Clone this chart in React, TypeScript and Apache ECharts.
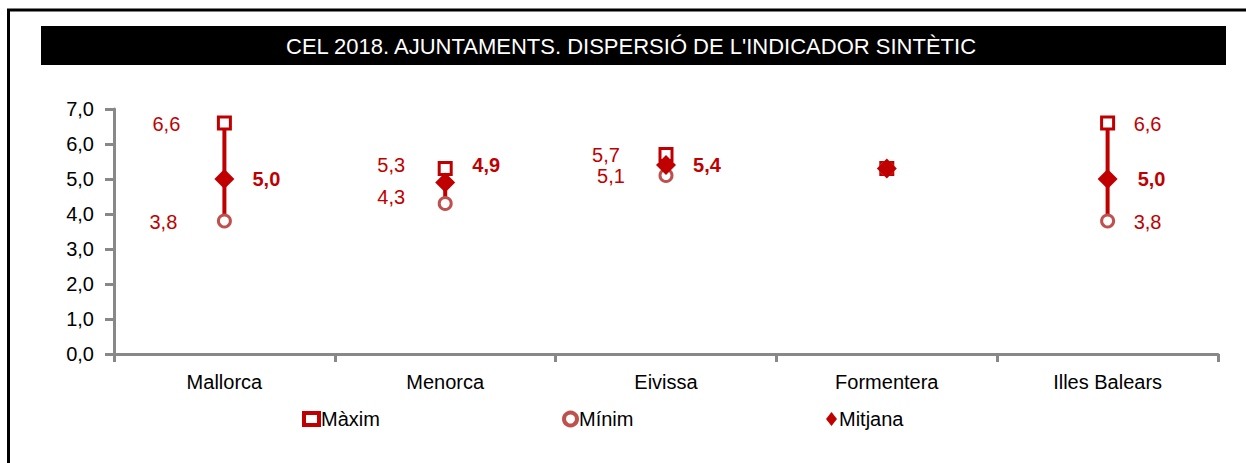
import React, { useEffect, useRef } from "react";
import * as echarts from "echarts";

const categories = ["Mallorca", "Menorca", "Eivissa", "Formentera", "Illes Balears"];
const maxVals = [6.6, 5.3, 5.7, 5.3, 6.6];
const minVals = [3.8, 4.3, 5.1, 5.3, 3.8];
const meanVals = [5.0, 4.9, 5.4, 5.3, 5.0];
const yTicks = [0, 1, 2, 3, 4, 5, 6, 7];

// label placement (offset from marker centre), null = hidden
const maxLabelOffset: (number[] | null)[] = [[-58, 1], [-54, -4], [-60, 0], null, [40, 1]];
const minLabelOffset: (number[] | null)[] = [[-61, 1], [-54, -7], [-55, 0], null, [40, 1]];
const meanLabelOffset: (number[] | null)[] = [[42, 0], [41, -18], [41, 0], null, [44, 0]];

const RED = "#C00000";
const MINC = "#C0504D";
const FONT = "'Liberation Sans', Arial, sans-serif";
const fmt = (v: number) => v.toFixed(1).replace(".", ",");

function mkData(vals: number[], offs: (number[] | null)[], bold: boolean) {
  return vals.map((v, i) => ({
    value: v,
    label: {
      show: offs[i] !== null,
      position: "inside",
      offset: offs[i] || [0, 0],
      formatter: () => fmt(v),
      color: RED,
      fontSize: 20,
      fontFamily: FONT,
      fontWeight: bold ? "bold" : "normal",
    },
  }));
}

export default function App() {
  const ref = useRef<HTMLDivElement>(null);
  useEffect(() => {
    const chart = echarts.init(ref.current!, null, { renderer: "svg" });
    const legendCommon = {
      top: 404,
      itemWidth: 15,
      itemHeight: 12,
      itemGap: 4,
      textStyle: { fontSize: 20, fontFamily: FONT, color: "#000", padding: [0, 0, 0, -3] },
    };
    chart.setOption({
      animation: false,
      backgroundColor: "#fff",
      graphic: [
        { type: "line", shape: { x1: 7, y1: 10, x2: 1246, y2: 10 }, style: { stroke: "#000", lineWidth: 3 } },
        { type: "line", shape: { x1: 8.5, y1: 9, x2: 8.5, y2: 463 }, style: { stroke: "#000", lineWidth: 3 } },
        { type: "rect", shape: { x: 41, y: 26, width: 1185, height: 39 }, style: { fill: "#000" } },
        {
          type: "text",
          x: 631,
          y: 46,
          style: {
            text: "CEL 2018. AJUNTAMENTS. DISPERSIÓ DE L'INDICADOR SINTÈTIC",
            fill: "#fff",
            fontSize: 22,
            fontFamily: FONT,
            align: "center",
            verticalAlign: "middle",
          },
        },
      ],
      legend: [
        {
          ...legendCommon,
          left: 297,
          data: [{ name: "Màxim", itemStyle: { color: "#fff", borderColor: RED, borderWidth: 4 } }],
        },
        {
          ...legendCommon,
          left: 557,
          itemWidth: 13,
          itemHeight: 13,
          data: [{ name: "Mínim", itemStyle: { color: "#fff", borderColor: MINC, borderWidth: 4 } }],
        },
        { ...legendCommon, left: 821, itemWidth: 11, itemHeight: 14, data: ["Mitjana"] },
      ],
      grid: { left: 114, right: 28, top: 109, bottom: 109 },
      xAxis: {
        type: "category",
        data: categories,
        boundaryGap: true,
        axisLine: { lineStyle: { color: "#888", width: 3 } },
        axisTick: { show: true, length: 8, lineStyle: { color: "#888", width: 3 } },
        axisLabel: { color: "#000", fontSize: 20, fontFamily: FONT, margin: 18 },
        splitLine: { show: false },
      },
      yAxis: {
        type: "value",
        min: yTicks[0],
        max: yTicks[yTicks.length - 1],
        interval: 1,
        axisLine: { show: true, lineStyle: { color: "#888", width: 3 } },
        axisTick: { show: true, length: 9, lineStyle: { color: "#888", width: 3 } },
        axisLabel: { color: "#000", fontSize: 20, fontFamily: FONT, margin: 20, formatter: (v: number) => fmt(v) },
        splitLine: { show: false },
      },
      series: [
        {
          type: "custom",
          name: "range",
          z: 1,
          data: categories.map((c, i) => [i, minVals[i], maxVals[i]]),
          encode: { x: 0, y: [1, 2] },
          renderItem: (params: any, api: any) => {
            const a = api.coord([api.value(0), api.value(1)]);
            const b = api.coord([api.value(0), api.value(2)]);
            return {
              type: "line",
              shape: { x1: a[0], y1: a[1], x2: b[0], y2: b[1] },
              style: { stroke: RED, lineWidth: 4 },
            };
          },
        },
        {
          type: "scatter",
          name: "Màxim",
          z: 3,
          symbol: "rect",
          symbolSize: 12,
          itemStyle: { color: "#fff", borderColor: RED, borderWidth: 3, opacity: 1 },
          data: mkData(maxVals, maxLabelOffset, false),
        },
        {
          type: "scatter",
          name: "Mínim",
          z: 3,
          symbol: "circle",
          symbolSize: 12,
          itemStyle: { color: "#fff", borderColor: MINC, borderWidth: 3, opacity: 1 },
          data: mkData(minVals, minLabelOffset, false),
        },
        {
          type: "scatter",
          name: "Mitjana",
          z: 4,
          symbol: "diamond",
          symbolSize: [20, 20],
          itemStyle: { color: RED, opacity: 1 },
          data: mkData(meanVals, meanLabelOffset, true),
        },
      ],
    });
    return () => chart.dispose();
  }, []);
  return (
    <div
      ref={ref}
      style={{ position: "absolute", left: 0, top: 0, width: 1246, height: 463 }}
    />
  );
}
